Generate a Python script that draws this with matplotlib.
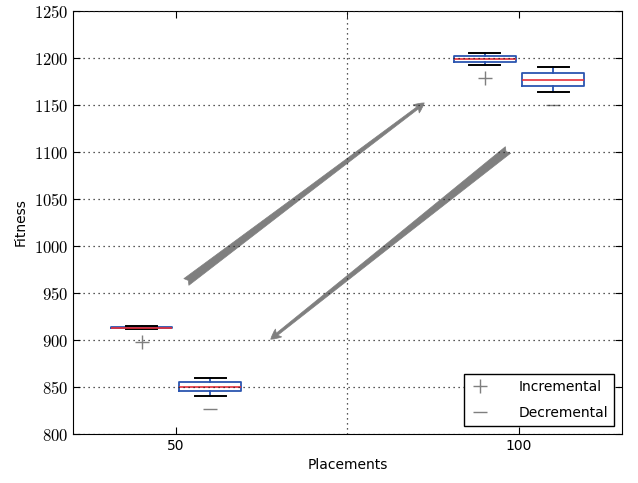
import matplotlib
matplotlib.use("Agg")
import matplotlib.pyplot as plt
from matplotlib.patches import FancyArrowPatch
from matplotlib.ticker import FuncFormatter, FixedLocator
from matplotlib.lines import Line2D

plt.rcParams['mathtext.fontset'] = 'cm'
plt.rcParams['font.family'] = ['DejaVu Sans']

# box statistics
positions = [45, 55, 95, 105]
labels = ["Incremental", "Decremental", "Incremental", "Decremental"]
medians = [913.2, 850.5, 1199.0, 1177.0]
q1 = [912.6, 845.5, 1195.8, 1170.5]
q3 = [913.8, 855.0, 1201.8, 1183.7]
whislo = [912.2, 840.5, 1192.2, 1164.2]
whishi = [914.6, 859.6, 1205.5, 1190.4]
fliers = [[897.5], [826.6], [1178.5], [1149.7]]

# arrows (data coords): tail -> head
arrows = [((51.2, 960), (86.5, 1154)), ((98.7, 1104), (63.5, 899))]

BLUE = '#2b55b0'
GREY = '#7f7f7f'

fig = plt.figure(figsize=(6.38, 4.83), dpi=100)
ax = fig.add_axes([0.1144, 0.1014, 0.8605, 0.8758])

stats = []
for i in range(len(positions)):
    stats.append(dict(med=medians[i], q1=q1[i], q3=q3[i], whislo=whislo[i],
                      whishi=whishi[i], fliers=[]))

ax.bxp(stats, positions=positions, widths=9, manage_ticks=False,
       boxprops=dict(color=BLUE, linewidth=1.3),
       whiskerprops=dict(color=BLUE, linewidth=1.3),
       capprops=dict(color='black', linewidth=1.4),
       medianprops=dict(color='#e8303a', linewidth=1.2))

for i, fl in enumerate(fliers):
    m = '+' if labels[i] == "Incremental" else '_'
    ax.plot([positions[i]] * len(fl), fl, linestyle='none', marker=m,
            color=GREY, markersize=10, markeredgewidth=1.0)

for (x0, y0), (x1, y1) in arrows:
    arr = FancyArrowPatch((x0, y0), (x1, y1),
                          arrowstyle='fancy,head_length=0.6,head_width=0.6,tail_width=0.5',
                          mutation_scale=12, color=GREY, linewidth=0.5)
    ax.add_patch(arr)

ax.set_xlim(35, 115)
ax.set_ylim(800, 1250)
ax.set_xticks([50, 100])
ax.xaxis.set_minor_locator(FixedLocator([75]))
ax.set_yticks(range(800, 1251, 50))
fmt = FuncFormatter(lambda v, p: r'$%d$' % v)
ax.xaxis.set_major_formatter(FuncFormatter(lambda v, p: '%d' % v))
ax.yaxis.set_major_formatter(fmt)
ax.tick_params(axis='y', labelsize=12)
ax.tick_params(axis='x', labelsize=10)
ax.tick_params(which='both', direction='in', top=True, right=True, length=5)
ax.tick_params(which='minor', bottom=False, length=5)

dots = (0, (1, 3))
ax.yaxis.grid(True, linestyle=dots, color='#222222', linewidth=0.9)
ax.xaxis.grid(True, which='minor', linestyle=dots, color='#222222', linewidth=0.9)
ax.xaxis.grid(False, which='major')
ax.set_axisbelow(False)

ax.set_xlabel("Placements", fontsize=10)
ax.set_ylabel("Fitness", fontsize=10)

handles = [Line2D([], [], linestyle='none', marker='+', color=GREY, markersize=10),
           Line2D([], [], linestyle='none', marker='_', color=GREY, markersize=10)]
leg = ax.legend(handles, ["Incremental", "Decremental"], loc='lower right',
                fancybox=False, edgecolor='black', framealpha=1, fontsize=10,
                handlelength=1.4, handletextpad=2.1, labelspacing=0.9,
                borderpad=0.4, borderaxespad=0.6)
leg.get_frame().set_linewidth(1.0)

fig.savefig("out.png", dpi=100)
